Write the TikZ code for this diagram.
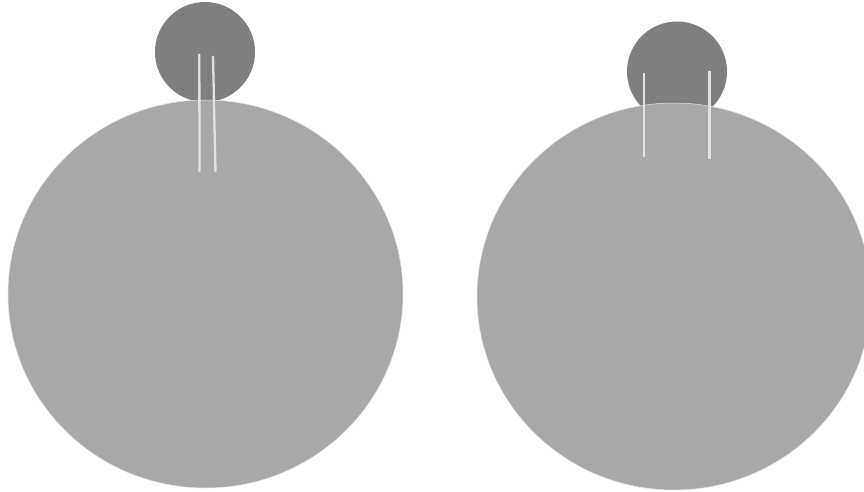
\documentclass[tikz,border=0pt]{standalone}
\definecolor{bigc}{HTML}{A8A8A8}
\definecolor{smallc}{HTML}{7F7F7F}
\definecolor{linec}{HTML}{E2E2E2}
\tikzset{
  bigball/.style={fill=bigc, draw=linec, line width=0.5pt},
  smallball/.style={fill=smallc, draw=none},
  rod/.style={draw=linec, line width=2.3pt}
}
\begin{document}
\begin{tikzpicture}[x=1pt,y=-1pt]
\useasboundingbox (0,0) rectangle (864,492);
% left
\fill[smallball] (205,52) circle (50);
\draw[bigball] (205.5,294) ellipse (197.5 and 194);
\coordinate (l1t) at (199.3,54);
\coordinate (l1b) at (199.5,172);
\coordinate (l2t) at (213,56);
\coordinate (l2b) at (215.5,172);
\draw[rod] (l1t) -- (l1b);
\draw[rod] (l2t) -- (l2b);
% right
\fill[smallball] (677,71.5) circle (50);
\draw[bigball] (674,296.5) ellipse (197 and 193.5);
\coordinate (r1t) at (644.3,73);
\coordinate (r1b) at (644.3,157);
\coordinate (r2t) at (709.5,71);
\coordinate (r2b) at (709.5,159);
\draw[rod] (r1t) -- (r1b);
\draw[rod] (r2t) -- (r2b);
\end{tikzpicture}
\end{document}
